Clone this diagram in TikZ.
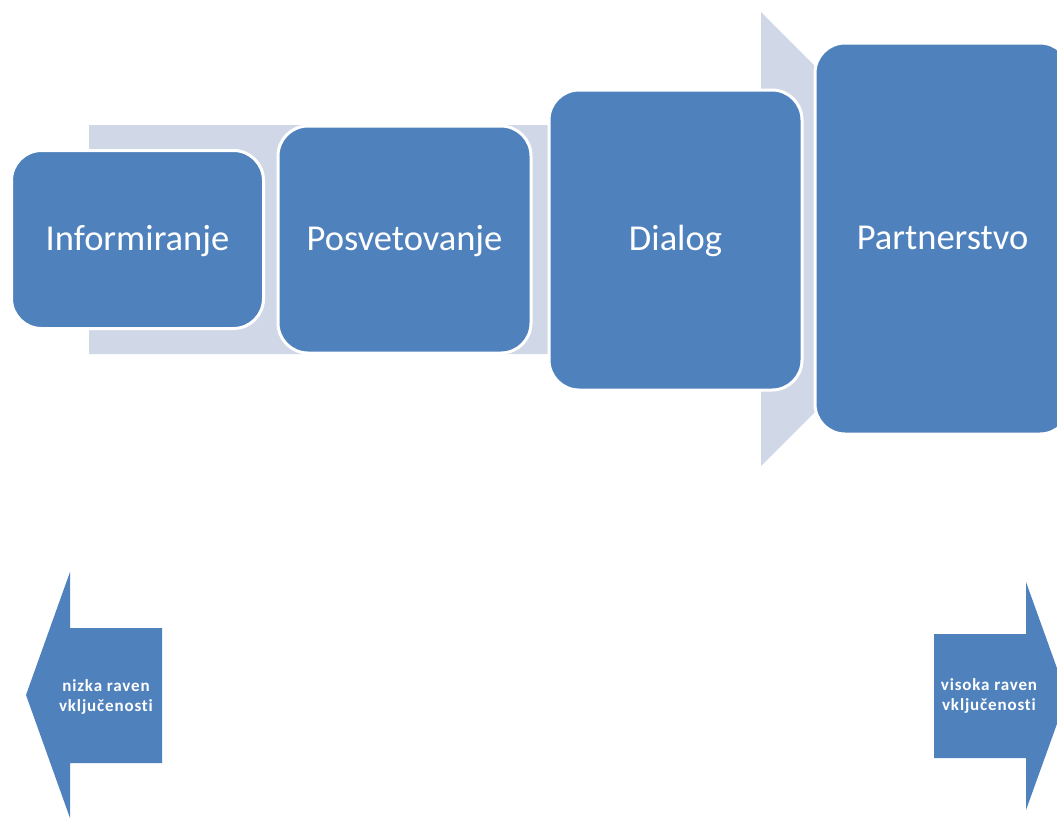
\documentclass[tikz,border=0pt]{standalone}
\usepackage{fontspec}
\setmainfont{Carlito}
\definecolor{boxblue}{HTML}{4F81BD}
\definecolor{bandgrey}{HTML}{D0D8E8}
\begin{document}
\begin{tikzpicture}[x=1pt,y=-1pt,
  stage/.style={draw=white, line width=3pt, fill=boxblue, rounded corners=30pt,
    text=white, inner sep=0pt, text height=27pt, text depth=6pt,
    font=\fontsize{36.5}{40}\selectfont},
  sidearrow/.style={fill=boxblue},
  sidelabel/.style={text=white, align=center, inner sep=0pt,
    font=\fontsize{17}{20}\selectfont\bfseries\addfontfeatures{LetterSpace=5,Ligatures=NoCommon}}]
\useasboundingbox (0,0) rectangle (1057,817);
\clip (0,0) rectangle (1057,817);
% background process arrow
\fill[bandgrey] (89,125) -- (761,125) -- (761,12) -- (988,239.5) -- (761,466)
  -- (761,354) -- (89,354) -- cycle;
% stages
\node[stage, minimum width=252pt, minimum height=178pt] (inf) at (137.5,239.5) {Informiranje};
\node[stage, minimum width=253pt, minimum height=227pt] (pos) at (404.5,239.5) {Posvetovanje};
\node[stage, minimum width=253pt, minimum height=300pt] (dia) at (675.5,240) {Dialog};
\node[stage, minimum width=255pt, minimum height=391pt] (par) at (942.5,238.5) {Partnerstvo};
% bottom arrows
\fill[sidearrow] (26,695) -- (70,572) -- (70,628) -- (162,628) -- (162,763)
  -- (70,763) -- (70,818) -- cycle;
\node[sidelabel] (low) at (106,697) {nizka raven\\vključenosti};
\fill[sidearrow] (1067,696) -- (1026,582) -- (1026,634) -- (934,634) -- (934,758)
  -- (1026,758) -- (1026,810) -- cycle;
\node[sidelabel] (high) at (989,696) {visoka raven\\vključenosti};
\end{tikzpicture}
\end{document}
